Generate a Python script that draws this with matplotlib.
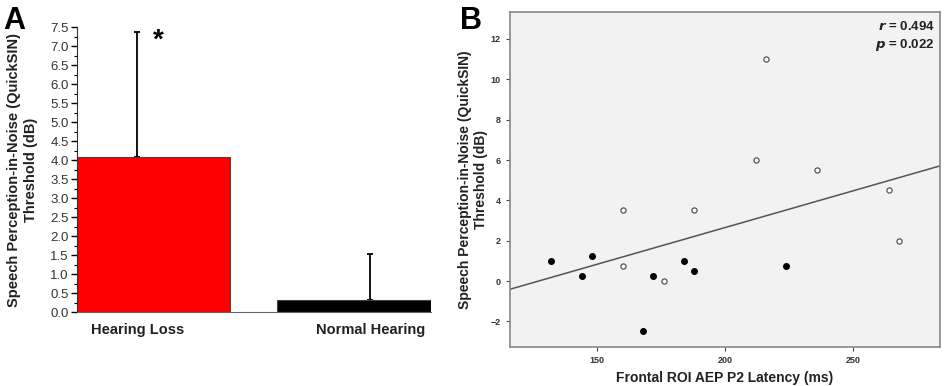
import numpy as np
import matplotlib
matplotlib.use('Agg')
import matplotlib.pyplot as plt
from matplotlib.ticker import MultipleLocator

plt.rcParams['font.family'] = ['Liberation Sans', 'DejaVu Sans']

# panel A data
groups = ['Hearing Loss', 'Normal Hearing']
means = [4.08, 0.31]
sd_up = [3.30, 1.21]
bar_colors = ['#ff0000', '#000000']

# panel B data
lat_filled = [132, 144, 148, 168, 172, 184, 188, 224]
sin_filled = [1.0, 0.25, 1.25, -2.5, 0.25, 1.0, 0.5, 0.75]
lat_open = [160, 160, 176, 188, 212, 216, 236, 264, 268]
sin_open = [3.5, 0.75, 0.0, 3.5, 6.0, 11.0, 5.5, 4.5, 2.0]

fig = plt.figure(figsize=(9.45, 3.86), dpi=100)

# ---- A ----
ax = fig.add_axes([0.0815, 0.1917, 0.3745, 0.7383])
xpos = np.array([1.0, 2.0])
bar_left = [0.742, 1.60]
bar_w = [0.658, 0.66]
for i in range(2):
    ax.bar(bar_left[i], means[i], width=bar_w[i], align='edge', color=bar_colors[i],
           edgecolor='#444444', lw=0.8, zorder=2)
    ax.errorbar(xpos[i], means[i], yerr=[[0], [sd_up[i]]], fmt='none', ecolor='black',
                elinewidth=1.3, capsize=2.5, capthick=1.3, zorder=1)
ax.text(1.09, 7.15, '*', fontsize=20, fontweight='bold', ha='center', va='center')
ax.set_xlim(0.742, 2.26)
ax.set_ylim(0, 7.5)
ax.set_xticks(xpos)
ax.set_xticklabels(groups, fontsize=10.5, fontweight='bold', color='#222222')
ax.tick_params(axis='x', length=0, pad=8)
ax.yaxis.set_major_locator(MultipleLocator(0.5))
ax.yaxis.set_minor_locator(MultipleLocator(0.25))
ax.yaxis.set_major_formatter(matplotlib.ticker.FormatStrFormatter('%.1f'))
ax.tick_params(axis='y', which='major', length=4, width=1, labelsize=9.5, labelcolor='#333333', pad=2)
ax.tick_params(axis='y', which='minor', length=2.5, width=0.8)
ax.spines['top'].set_visible(False)
ax.spines['right'].set_visible(False)
ax.spines['left'].set_color('#333333')
ax.spines['bottom'].set_color('#666666')
ax.set_ylabel('Speech Perception-in-Noise (QuickSIN)\nThreshold (dB)', fontsize=10.5,
              fontweight='bold', color='#222222', labelpad=9)
fig.text(0.003, 0.985, 'A', fontsize=22, fontweight='bold', va='top', ha='left')

# ---- B ----
bx = fig.add_axes([0.5397, 0.101, 0.455, 0.868])
bx.set_facecolor('#f2f2f2')
all_x = np.array(lat_filled + lat_open)
all_y = np.array(sin_filled + sin_open)
slope, icpt = np.polyfit(all_x, all_y, 1)
xl = np.array([116, 284])
bx.plot(xl, slope * xl + icpt, color='#555555', lw=1.1, zorder=2)
bx.scatter(lat_filled, sin_filled, s=16, color='black', zorder=3)
bx.scatter(lat_open, sin_open, s=14, facecolor='white', edgecolor='#555555', lw=0.9, zorder=3)
bx.set_xlim(116, 284)
bx.set_ylim(-3.27, 13.34)
bx.set_xticks([150, 200, 250])
bx.set_yticks([-2, 0, 2, 4, 6, 8, 10, 12])
bx.tick_params(labelsize=6.5, length=3, width=0.8, color='#444444', labelcolor='#333333')
for lab in bx.get_xticklabels() + bx.get_yticklabels():
    lab.set_fontweight('bold')
for s in bx.spines.values():
    s.set_color('#888888')
    s.set_linewidth(1.2)
bx.set_xlabel('Frontal ROI AEP P2 Latency (ms)', fontsize=10, fontweight='bold',
              color='#222222', labelpad=4)
bx.set_ylabel('Speech Perception-in-Noise (QuickSIN)\nThreshold (dB)', fontsize=10,
              fontweight='bold', color='#222222', labelpad=2)
bx.text(0.988, 0.975, r'$\mathbfit{r}$ = 0.494' + '\n' + r'$\mathbfit{p}$ = 0.022',
        transform=bx.transAxes, ha='right', va='top', fontsize=9.5, fontweight='bold',
        color='#222222', linespacing=1.3)
fig.text(0.487, 0.985, 'B', fontsize=22, fontweight='bold', va='top', ha='left')

fig.savefig('out.png', dpi=100)
